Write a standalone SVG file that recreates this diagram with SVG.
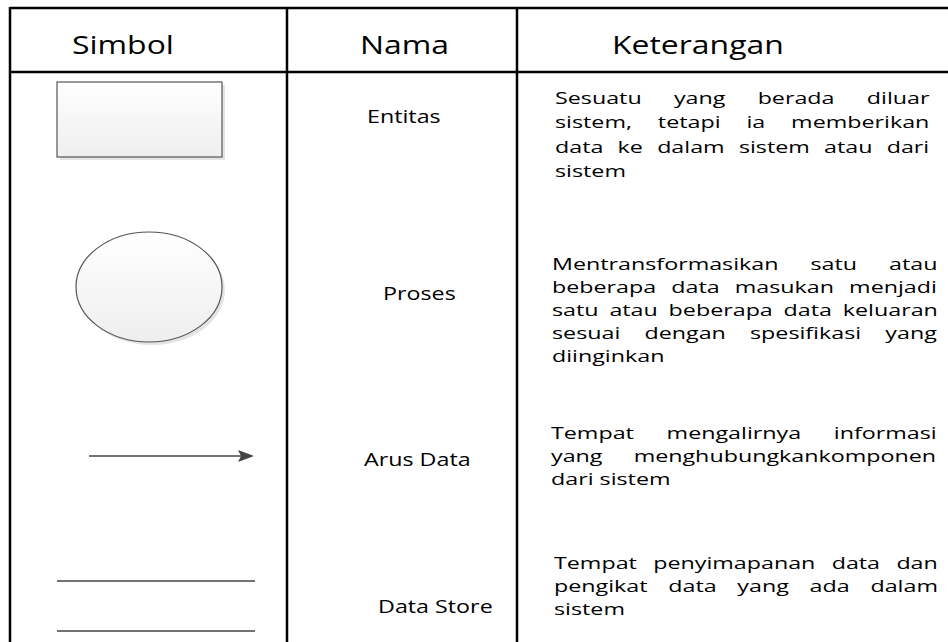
<svg xmlns="http://www.w3.org/2000/svg" width="948" height="642" viewBox="0 0 948 642">
  <style>
    .grid { stroke: #000; stroke-width: 2.5; fill: none; }
    .head { font-family: "Open Sans", "Liberation Sans", sans-serif; font-size: 26px; font-weight: 500; fill: #000; }
    .lbl { font-family: "Open Sans", "Liberation Sans", sans-serif; font-size: 18px; font-weight: 500; fill: #000; }
    .desc { font-family: "Open Sans", "Liberation Sans", sans-serif; font-size: 16.6px; font-weight: 500; fill: #000; }
    .sym { stroke: #555; stroke-width: 1.2; fill: url(#symFill); }
    .shadow { fill: #d9d9d9; opacity: 0.7; }
    .flow { stroke: #444; stroke-width: 1.6; fill: none; }
  </style>
  <defs>
    <linearGradient id="symFill" x1="0" y1="0" x2="0" y2="1">
      <stop offset="0" stop-color="#ffffff"/>
      <stop offset="1" stop-color="#eeeeee"/>
    </linearGradient>
  </defs>

  <rect width="948" height="642" fill="#fff"/>

  <!-- table grid -->
  <g id="grid" class="grid">
    <line x1="10" y1="8" x2="948" y2="8"/>
    <line x1="10" y1="72" x2="948" y2="72"/>
    <line x1="10" y1="7" x2="10" y2="642"/>
    <line x1="287" y1="7" x2="287" y2="642"/>
    <line x1="517" y1="7" x2="517" y2="642"/>
  </g>

  <!-- column headers -->
  <g id="header">
    <g transform="translate(72 0) scale(1.228 1)"><text class="head" x="0" y="54">Simbol</text></g>
    <g transform="translate(360 0) scale(1.228 1)"><text class="head" x="0" y="54">Nama</text></g>
    <g transform="translate(612 0) scale(1.228 1)"><text class="head" x="0" y="54">Keterangan</text></g>
  </g>

  <!-- row: external entity -->
  <g id="entitas">
    <rect class="shadow" x="60" y="85" width="165" height="75"/>
    <rect class="sym" x="57" y="82" width="165" height="75"/>
    <g transform="translate(367 0) scale(1.293 1)"><text class="lbl" x="0" y="123">Entitas</text></g>
    <g transform="translate(555 0) scale(1.402 1)" class="desc">
      <text x="0" y="104.5" word-spacing="18.7">Sesuatu yang berada diluar</text>
      <text x="0" y="128.5" word-spacing="14.16">sistem, tetapi ia memberikan</text>
      <text x="0" y="153" word-spacing="5.85">data ke dalam sistem atau dari</text>
      <text x="0" y="177">sistem</text>
    </g>
  </g>

  <!-- row: process -->
  <g id="proses">
    <ellipse class="shadow" cx="152" cy="290" rx="73" ry="55"/>
    <ellipse class="sym" cx="149" cy="287" rx="73" ry="55"/>
    <g transform="translate(383 0) scale(1.293 1)"><text class="lbl" x="0" y="300">Proses</text></g>
    <g transform="translate(552 0) scale(1.402 1)" class="desc">
      <text x="0" y="270.5" word-spacing="18.52">Mentransformasikan satu atau</text>
      <text x="0" y="293.5" word-spacing="6.47">beberapa data masukan menjadi</text>
      <text x="0" y="316.5" word-spacing="3.41">satu atau beberapa data keluaran</text>
      <text x="0" y="339.5" word-spacing="12.93">sesuai dengan spesifikasi yang</text>
      <text x="0" y="362.5">diinginkan</text>
    </g>
  </g>

  <!-- row: data flow -->
  <g id="arus-data">
    <g transform="translate(364 0) scale(1.293 1)"><text class="lbl" x="0" y="466">Arus Data</text></g>
    <g transform="translate(551 0) scale(1.402 1)" class="desc">
      <text x="0" y="439.5" word-spacing="19.05">Tempat mengalirnya informasi</text>
      <text x="0" y="462.5" word-spacing="17.91">yang menghubungkankomponen</text>
      <text x="0" y="485.5">dari sistem</text>
    </g>
  </g>

  <!-- row: data store -->
  <g id="data-store">
    <line class="flow" x1="57" y1="581" x2="255" y2="581"/>
    <line class="flow" x1="57" y1="631" x2="255" y2="631"/>
    <g transform="translate(378 0) scale(1.293 1)"><text class="lbl" x="0" y="613">Data Store</text></g>
    <g transform="translate(554 0) scale(1.402 1)" class="desc">
      <text x="0" y="569.5" word-spacing="7.34">Tempat penyimapanan data dan</text>
      <text x="0" y="592.5" word-spacing="10.49">pengikat data yang ada dalam</text>
      <text x="0" y="615.5">sistem</text>
    </g>
  </g>

  <!-- data flow symbol -->
  <g id="connectors">
    <line class="flow" x1="89" y1="456" x2="242" y2="456"/>
    <polygon points="238,450 254,456 238,462 241,456" fill="#444"/>
  </g>
</svg>
